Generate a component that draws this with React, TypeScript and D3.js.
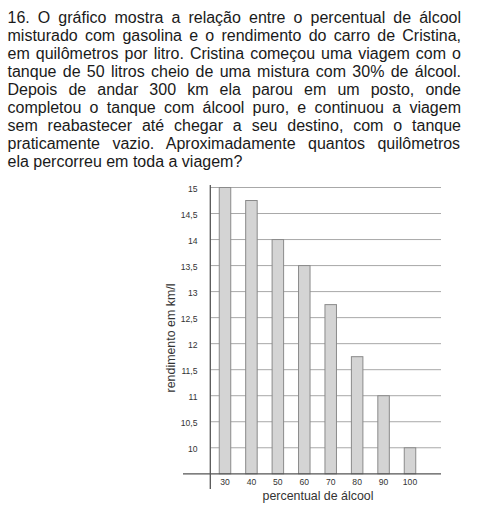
import React, { useMemo } from "react";
import * as d3 from "d3";

const questionLines = [
  "16. O gráfico mostra a relação entre o percentual de álcool",
  "misturado com gasolina e o rendimento do carro de Cristina,",
  "em quilômetros por litro. Cristina começou uma viagem com o",
  "tanque de 50 litros cheio de uma mistura com 30% de álcool.",
  "Depois de andar 300 km ela parou em um posto, onde",
  "completou o tanque com álcool puro, e continuou a viagem",
  "sem reabastecer até chegar a seu destino, com o tanque",
  "praticamente vazio. Aproximadamente quantos quilômetros",
  "ela percorreu em toda a viagem?",
];

const categories = ["30", "40", "50", "60", "70", "80", "90", "100"];
const values = [15, 14.75, 14, 13.5, 12.75, 11.75, 11, 10];
const yTicks = [10, 10.5, 11, 11.5, 12, 12.5, 13, 13.5, 14, 14.5, 15];
const yTitle = "rendimento em km/l";
const xTitle = "percentual de álcool";

const FONT = "'Liberation Sans', Arial, Helvetica, sans-serif";

export default function App() {
  const W = 480;
  const H = 506;
  const textLeft = 7.5;
  const textRight = 461;
  const fontSize = 16;

  const spacings = useMemo(() => {
    let ctx: CanvasRenderingContext2D | null = null;
    try {
      ctx = document.createElement("canvas").getContext("2d");
    } catch (e) {
      ctx = null;
    }
    return questionLines.map((line, i) => {
      if (i === questionLines.length - 1 || !ctx) return 0;
      ctx.font = `${fontSize}px 'Liberation Sans'`;
      const w = ctx.measureText(line).width;
      const spaces = (line.match(/ /g) || []).length;
      return spaces ? (textRight - textLeft - w) / spaces : 0;
    });
  }, []);

  const x = d3.scalePoint<string>().domain(categories).range([225, 410]);
  const y = d3.scaleLinear().domain([9.5, 15]).range([473.8, 187.5]);
  const barW = 11.5;
  const gridX0 = 210.3;
  const gridX1 = 441;

  return (
    <svg
      width={W}
      height={H}
      style={{ position: "absolute", left: 0, top: 0, background: "#fff" }}
      fontFamily={FONT}
    >
      <rect x={0} y={0} width={W} height={H} fill="#fff" />
      {questionLines.map((line, i) => (
        <text
          key={i}
          x={textLeft}
          y={22.7 + i * 18}
          fontSize={fontSize}
          fill="#1a1a1a"
          style={{ wordSpacing: `${spacings[i]}px` }}
        >
          {line}
        </text>
      ))}

      {/* gridlines */}
      {yTicks.map((t) => (
        <line
          key={t}
          x1={gridX0}
          x2={gridX1}
          y1={y(t)}
          y2={y(t)}
          stroke="#a8a8a8"
          strokeWidth={1}
        />
      ))}

      {/* bars */}
      {categories.map((c, i) => (
        <rect
          key={c}
          x={(x(c) as number) - barW / 2}
          y={y(values[i])}
          width={barW}
          height={y(9.5) - y(values[i])}
          fill="#d4d4d4"
          stroke="#8a8a8a"
          strokeWidth={1}
        />
      ))}

      {/* axes */}
      <line x1={183} x2={441} y1={y(9.5)} y2={y(9.5)} stroke="#555" strokeWidth={1.3} />
      <line x1={gridX0} x2={gridX0} y1={185} y2={489} stroke="#555" strokeWidth={1.3} />

      {/* y tick labels */}
      {yTicks.map((t) => (
        <text
          key={t}
          x={197.5}
          y={y(t) + 1.5}
          dy="0.35em"
          textAnchor="end"
          fontSize={8.6}
          fill="#333"
        >
          {String(t).replace(".", ",")}
        </text>
      ))}

      {/* x tick labels */}
      {categories.map((c) => (
        <text
          key={c}
          x={x(c) as number}
          y={484.8}
          textAnchor="middle"
          fontSize={8.6}
          fill="#333"
        >
          {c}
        </text>
      ))}

      <text x={318} y={500} textAnchor="middle" fontSize={12.4} fill="#333">
        {xTitle}
      </text>
      <text
        transform={`translate(175,338) rotate(-90)`}
        textAnchor="middle"
        fontSize={12.4}
        fill="#333"
      >
        {yTitle}
      </text>
    </svg>
  );
}
